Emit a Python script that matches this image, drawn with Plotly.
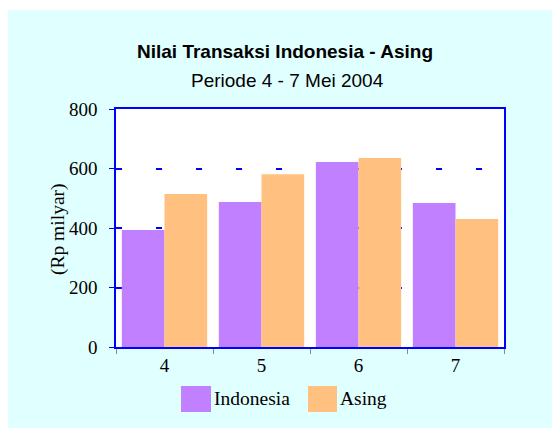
import plotly.graph_objects as go

# ---- data ----
categories = ["4", "5", "6", "7"]
indonesia = [393, 487, 622, 484]
asing = [514, 581, 635, 430]
series_names = ["Indonesia", "Asing"]
y_ticks = [0, 200, 400, 600, 800]
title_text = "Nilai Transaksi Indonesia - Asing"
subtitle_text = "Periode 4 - 7 Mei 2004"
y_title = "(Rp milyar)"

# ---- style ----
OX, OY = 8, 8                 # page body margin
W, H = 560, 428               # figure size
L, R, T, B = 108, 64, 101, 89  # plot area (figure coords)
PW, PH = W - L - R, H - T - B
col_ind = "#C080FF"
col_asg = "#FFC080"
bg = "#E0FFFF"
serif = "Liberation Serif, Times New Roman, serif"
sans = "Liberation Sans, Arial, sans-serif"


def px_x(sx):  # screen px -> paper x
    return (sx - OX - L) / PW


def px_y(sy):  # screen px -> paper y
    return (OY + H - B - sy) / PH


fig = go.Figure()
fig.add_trace(go.Bar(x=categories, y=indonesia, name=series_names[0],
                     marker=dict(color=col_ind, line=dict(width=0))))
fig.add_trace(go.Bar(x=categories, y=asing, name=series_names[1],
                     marker=dict(color=col_asg, line=dict(width=0))))

shapes = [
    # thin white strip at the top of the background
    dict(type="rect", xref="paper", yref="paper", x0=px_x(0), x1=px_x(580),
         y0=px_y(10), y1=px_y(0), fillcolor="white", line=dict(width=0), layer="below"),
    # legend swatches
    dict(type="rect", xref="paper", yref="paper", x0=px_x(181), x1=px_x(211),
         y0=px_y(412), y1=px_y(386), fillcolor=col_ind, line=dict(width=0)),
    dict(type="rect", xref="paper", yref="paper", x0=px_x(308), x1=px_x(337),
         y0=px_y(412), y1=px_y(386), fillcolor=col_asg, line=dict(width=0)),
]

annotations = [
    dict(text="<b>" + title_text + "</b>", xref="paper", yref="paper",
         x=px_x(285), y=px_y(52), xanchor="center", yanchor="middle",
         showarrow=False, font=dict(family=sans, size=19, color="black")),
    dict(text=subtitle_text, xref="paper", yref="paper",
         x=px_x(287), y=px_y(80), xanchor="center", yanchor="middle",
         showarrow=False, font=dict(family=sans, size=19, color="black")),
    dict(text=y_title, xref="paper", yref="paper", textangle=-90,
         x=px_x(58), y=px_y(229), xanchor="center", yanchor="middle",
         showarrow=False, font=dict(family=serif, size=19.5, color="black")),
    dict(text=series_names[0], xref="paper", yref="paper",
         x=px_x(212), y=px_y(398), xanchor="left", yanchor="middle",
         showarrow=False, font=dict(family=serif, size=19.5, color="black")),
    dict(text=series_names[1], xref="paper", yref="paper",
         x=px_x(338), y=px_y(398), xanchor="left", yanchor="middle",
         showarrow=False, font=dict(family=serif, size=19.5, color="black")),
]

fig.update_layout(
    width=W, height=H,
    margin=dict(l=L, r=R, t=T, b=B, pad=0),
    paper_bgcolor=bg, plot_bgcolor="white",
    barmode="group", bargap=0.12, bargroupgap=0,
    showlegend=False,
    shapes=shapes, annotations=annotations,
    xaxis=dict(
        type="category", showline=True, linecolor="#0000FF", linewidth=1.5,
        mirror=True, ticks="outside", tickson="boundaries", ticklen=5,
        tickcolor="#888888", tickwidth=1, showgrid=False,
        tickfont=dict(family=serif, size=19, color="black"),
    ),
    yaxis=dict(
        range=[0, 800], tickvals=y_ticks, showline=True, linecolor="#0000FF",
        linewidth=1.5, mirror=True, ticks="outside", ticklen=5,
        tickcolor="#0000FF", tickwidth=1, ticklabelstandoff=8,
        showgrid=True, gridcolor="#0000FF", gridwidth=1.5, griddash="6px,34px",
        zeroline=False,
        tickfont=dict(family=serif, size=19, color="black"),
    ),
)

fig.write_html("out.html")
